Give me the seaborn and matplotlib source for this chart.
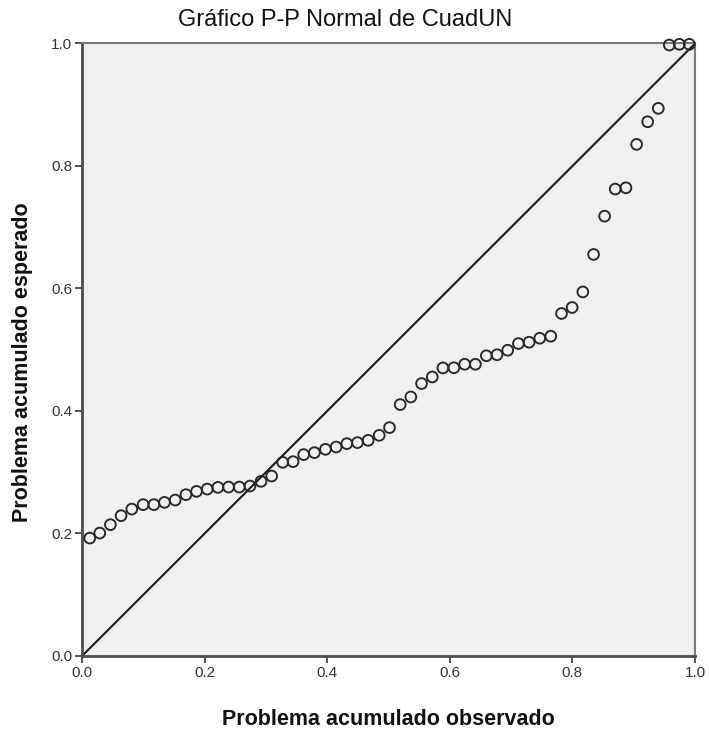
import matplotlib
matplotlib.use("Agg")
import matplotlib.pyplot as plt
import seaborn as sns
import pandas as pd

# Observed cumulative probability (x) and expected cumulative probability (y)
observed = [0.0126, 0.0289, 0.0463, 0.0637, 0.0812, 0.0997, 0.1172, 0.1345,
            0.1520, 0.1695, 0.1868, 0.2042, 0.2217, 0.2390, 0.2565, 0.2740,
            0.2920, 0.3093, 0.3273, 0.3443, 0.3616, 0.3791, 0.3971, 0.4145,
            0.4319, 0.4493, 0.4668, 0.4848, 0.5016, 0.5191, 0.5364, 0.5539,
            0.5714, 0.5887, 0.6067, 0.6242, 0.6417, 0.6596, 0.6770, 0.6944,
            0.7119, 0.7293, 0.7467, 0.7647, 0.7822, 0.7995, 0.8170, 0.8345,
            0.8525, 0.8698, 0.8873, 0.9047, 0.9227, 0.9401, 0.9580, 0.9744,
            0.9907]
expected = [0.1925, 0.2007, 0.2144, 0.2291, 0.2399, 0.2471, 0.2471, 0.2508,
            0.2546, 0.2634, 0.2688, 0.2725, 0.2753, 0.2758, 0.2758, 0.2775,
            0.2851, 0.2938, 0.3162, 0.3173, 0.3288, 0.3320, 0.3374, 0.3412,
            0.3467, 0.3484, 0.3521, 0.3603, 0.3729, 0.4105, 0.4229, 0.4448,
            0.4556, 0.4703, 0.4706, 0.4763, 0.4763, 0.4902, 0.4918, 0.4992,
            0.5101, 0.5123, 0.5188, 0.5221, 0.5592, 0.5690, 0.5944, 0.6556,
            0.7181, 0.7623, 0.7644, 0.8353, 0.8722, 0.8941, 0.9975, 0.9987,
            0.9987]
ref_line = [0.0, 1.0]
ticks = [0.0, 0.2, 0.4, 0.6, 0.8, 1.0]
tick_labels = ["0.0", "0.2", "0.4", "0.6", "0.8", "1.0"]

title = "Gráfico P-P Normal de CuadUN"
xlabel = "Problema acumulado observado"
ylabel = "Problema acumulado esperado"

sns.set_theme(style="ticks")
plt.rcParams['font.family'] = ['Liberation Sans', 'DejaVu Sans']

df = pd.DataFrame({"obs": observed, "exp": expected})
ref = pd.DataFrame({"x": ref_line, "y": ref_line})

fig = plt.figure(figsize=(7.09, 7.31), dpi=100)
ax = fig.add_axes([0.1157, 0.1026, 0.8646, 0.8379])
ax.set_facecolor("#f0f0f0")

sns.lineplot(data=ref, x="x", y="y", ax=ax, color="#1a1a1a", linewidth=1.5,
             zorder=2)
sns.scatterplot(data=df, x="obs", y="exp", ax=ax, s=60, marker="o",
                facecolors="none", edgecolor="#262626", linewidth=1.35,
                zorder=3, clip_on=False)

ax.set_xlim(0, 1)
ax.set_ylim(0, 1)
ax.set_xticks(ticks)
ax.set_xticklabels(tick_labels)
ax.set_yticks(ticks)
ax.set_yticklabels(tick_labels)
ax.tick_params(axis="both", direction="out", length=5, width=1.2,
               color="#333333", labelsize=11, labelcolor="#333333", pad=2)

for side in ["left", "bottom"]:
    ax.spines[side].set_color("#4d4d4d")
    ax.spines[side].set_linewidth(2.0)
for side in ["top", "right"]:
    ax.spines[side].set_visible(True)
    ax.spines[side].set_color("#7a7a7a")
    ax.spines[side].set_linewidth(1.5)

fig.text(0.487, 0.964, title, fontsize=17, color="#111111",
         ha="center", va="baseline")
ax.set_xlabel(xlabel, fontsize=15.5, fontweight="bold", color="#111111")
ax.set_ylabel(ylabel, fontsize=15.5, fontweight="bold", color="#111111")
ax.xaxis.set_label_coords(0.5, -0.086)
ax.yaxis.set_label_coords(-0.08, 0.48)

fig.savefig("out.png", dpi=100, facecolor="white")
